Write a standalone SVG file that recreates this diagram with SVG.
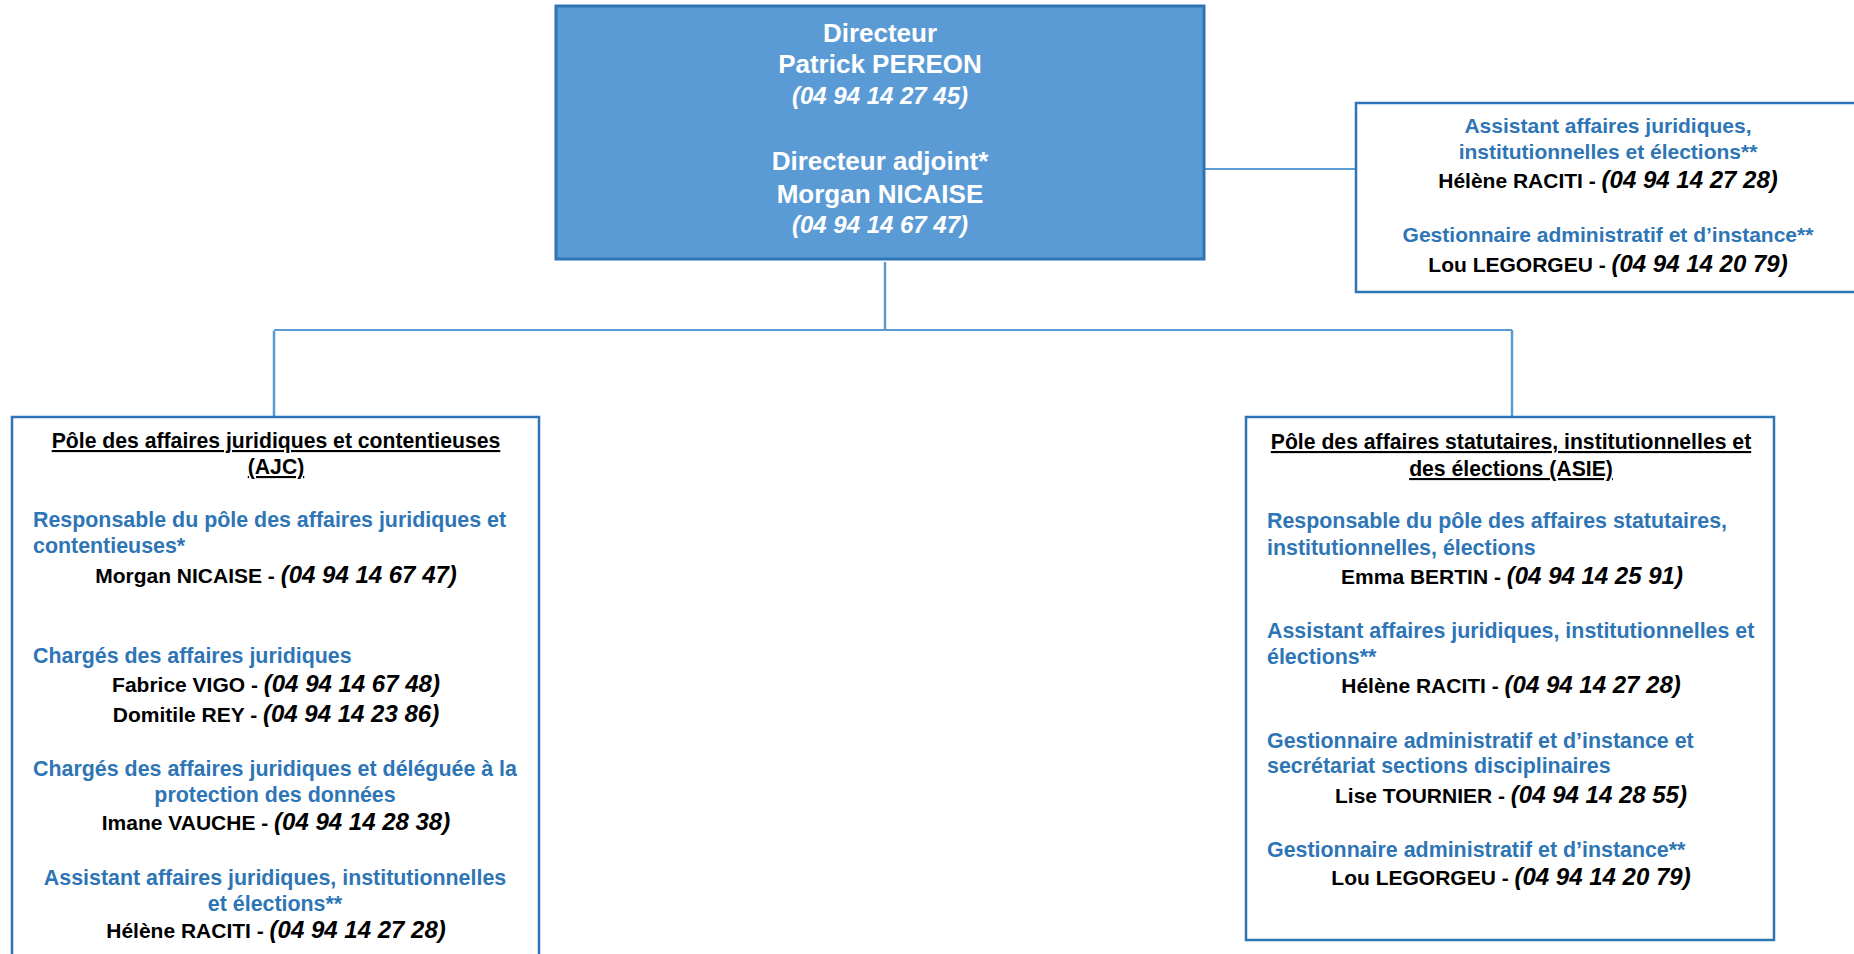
<svg xmlns="http://www.w3.org/2000/svg" width="1854" height="954" viewBox="0 0 1854 954">
<style>
text{font-family:"Liberation Sans",Arial,sans-serif;font-weight:bold;}
.w{fill:#ffffff;font-size:26px;text-anchor:middle;}
.wp{fill:#ffffff;font-size:24px;font-style:italic;text-anchor:middle;}
.b{fill:#2E75B6;font-size:21px;}
.bp{fill:#2E75B6;font-size:21.4px;}
.c{text-anchor:middle;}
.k{fill:#000000;font-size:21px;text-anchor:middle;}
.p{font-size:24px;font-style:italic;}
.t{fill:#000000;font-size:21.2px;text-anchor:middle;text-decoration:underline;}
.box{fill:#ffffff;stroke:#2E75B6;stroke-width:2.5;}
.conn{stroke:#5B9BD5;fill:none;}
</style>
<g id="connectors">
<line class="conn" x1="885" y1="262" x2="885" y2="331" stroke-width="2.5"/>
<line class="conn" x1="274" y1="330" x2="1512" y2="330" stroke-width="1.8"/>
<line class="conn" x1="274" y1="331" x2="274" y2="416" stroke-width="2.5"/>
<line class="conn" x1="1512" y1="330" x2="1512" y2="417" stroke-width="2.5"/>
<line class="conn" x1="1205" y1="169" x2="1356" y2="169" stroke-width="1.8"/>
</g>
<g id="directeur">
<rect x="556" y="6" width="648" height="253" fill="#5B9BD5" stroke="#2E75B6" stroke-width="3"/>
<text class="w" x="880" y="42">Directeur</text>
<text class="w" x="880" y="73">Patrick PEREON</text>
<text class="wp" x="880" y="104">(04 94 14 27 45)</text>
<text class="w" x="880" y="170">Directeur adjoint*</text>
<text class="w" x="880" y="203">Morgan NICAISE</text>
<text class="wp" x="880" y="233">(04 94 14 67 47)</text>
</g>
<g id="assistants">
<rect class="box" x="1356" y="103" width="502" height="189"/>
<text class="b c" x="1608" y="133">Assistant affaires juridiques,</text>
<text class="b c" x="1608" y="159">institutionnelles et élections**</text>
<text class="k" x="1608" y="188">Hélène RACITI - <tspan class="p">(04 94 14 27 28)</tspan></text>
<text class="b c" x="1608" y="242">Gestionnaire administratif et d’instance**</text>
<text class="k" x="1608" y="272">Lou LEGORGEU - <tspan class="p">(04 94 14 20 79)</tspan></text>
</g>
<g id="pole-ajc">
<rect class="box" x="12" y="417" width="527" height="560"/>
<text class="t" x="276" y="448">Pôle des affaires juridiques et contentieuses</text>
<text class="t" x="276" y="474">(AJC)</text>
<text class="bp" x="33" y="527">Responsable du pôle des affaires juridiques et</text>
<text class="bp" x="33" y="553">contentieuses*</text>
<text class="k" x="276" y="583">Morgan NICAISE - <tspan class="p">(04 94 14 67 47)</tspan></text>
<text class="bp" x="33" y="663">Chargés des affaires juridiques</text>
<text class="k" x="276" y="692">Fabrice VIGO - <tspan class="p">(04 94 14 67 48)</tspan></text>
<text class="k" x="276" y="722">Domitile REY - <tspan class="p">(04 94 14 23 86)</tspan></text>
<text class="bp c" x="275" y="776">Chargés des affaires juridiques et déléguée à la</text>
<text class="bp c" x="275" y="802">protection des données</text>
<text class="k" x="276" y="830">Imane VAUCHE - <tspan class="p">(04 94 14 28 38)</tspan></text>
<text class="bp c" x="275" y="885">Assistant affaires juridiques, institutionnelles</text>
<text class="bp c" x="275" y="911">et élections**</text>
<text class="k" x="276" y="938">Hélène RACITI - <tspan class="p">(04 94 14 27 28)</tspan></text>
</g>
<g id="pole-asie">
<rect class="box" x="1246" y="417" width="528" height="523"/>
<text class="t" x="1511" y="449">Pôle des affaires statutaires, institutionnelles et</text>
<text class="t" x="1511" y="476">des élections (ASIE)</text>
<text class="bp" x="1267" y="528">Responsable du pôle des affaires statutaires,</text>
<text class="bp" x="1267" y="555">institutionnelles, élections</text>
<text class="k" x="1512" y="584">Emma BERTIN - <tspan class="p">(04 94 14 25 91)</tspan></text>
<text class="bp" x="1267" y="638">Assistant affaires juridiques, institutionnelles et</text>
<text class="bp" x="1267" y="664">élections**</text>
<text class="k" x="1511" y="693">Hélène RACITI - <tspan class="p">(04 94 14 27 28)</tspan></text>
<text class="bp" x="1267" y="748">Gestionnaire administratif et d’instance et</text>
<text class="bp" x="1267" y="773">secrétariat sections disciplinaires</text>
<text class="k" x="1511" y="803">Lise TOURNIER - <tspan class="p">(04 94 14 28 55)</tspan></text>
<text class="bp" x="1267" y="857">Gestionnaire administratif et d’instance**</text>
<text class="k" x="1511" y="885">Lou LEGORGEU - <tspan class="p">(04 94 14 20 79)</tspan></text>
</g>
</svg>
